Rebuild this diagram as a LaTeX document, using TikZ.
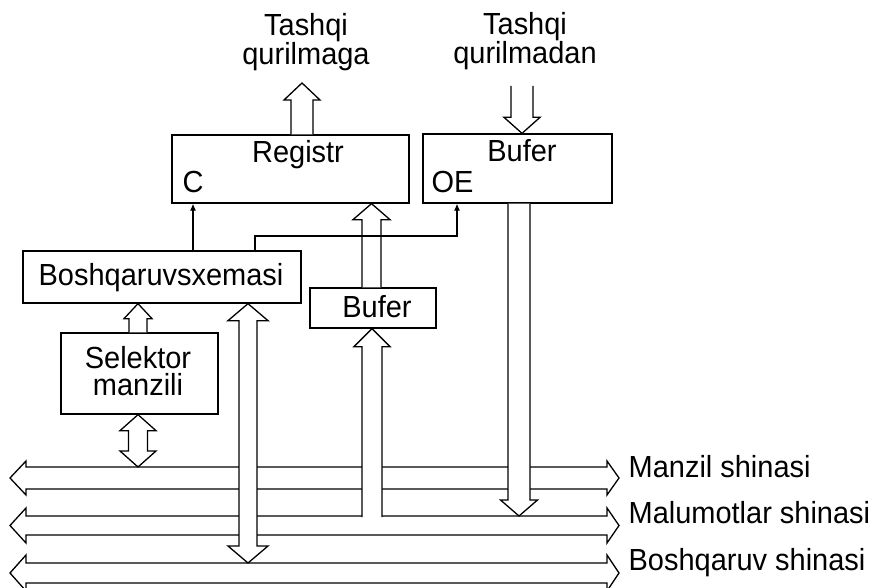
\documentclass[tikz,border=0pt]{standalone}
\usepackage{fontspec}
\setmainfont[FakeStretch=0.95]{Liberation Sans}
\usetikzlibrary{calc,arrows.meta}
% hollow single arrow: #1 tip, #2 tail, #3 half shaft, #4 half head, #5 head length (signed, y down)
\newcommand\hollowv[5]{%
  \filldraw[hol] ($(#1|-#2)+(-#3,0)$) -- ($(#1)+(-#3,#5)$) -- ($(#1)+(-#4,#5)$) -- (#1)
    -- ($(#1)+(#4,#5)$) -- ($(#1)+(#3,#5)$) -- ($(#1|-#2)+(#3,0)$);}
% hollow double arrow: #1 top tip, #2 bottom tip
\newcommand\hollowvv[5]{%
  \filldraw[hol] (#1) -- ($(#1)+(#4,#5)$) -- ($(#1)+(#3,#5)$) -- ($(#1|-#2)+(#3,-#5)$)
    -- ($(#1|-#2)+(#4,-#5)$) -- (#1|-#2) -- ($(#1|-#2)+(-#4,-#5)$) -- ($(#1|-#2)+(-#3,-#5)$)
    -- ($(#1)+(-#3,#5)$) -- ($(#1)+(-#4,#5)$) -- cycle;}
\begin{document}
\begin{tikzpicture}[x=1pt,y=-1pt,line width=1.3pt,
  box/.style={draw,inner sep=0pt},
  hol/.style={draw,fill=white},
  lbl/.style={inner sep=0pt,font=\fontsize{30.5}{25}\selectfont,anchor=base},
  two/.style={inner sep=0pt,align=center,font=\fontsize{30.5}{25}\selectfont},
  sig/.style={-{Latex[length=7pt,width=6pt]},line width=1.2pt}]
\useasboundingbox[fill=white] (0,0) rectangle (880,588);

% boxes
\node[box,minimum width=237pt,minimum height=68pt] (reg) at (290.5,169) {};
\node[box,minimum width=189pt,minimum height=69pt] (buf1) at (517.5,168.5) {};
\node[box,minimum width=278pt,minimum height=52pt] (bsx) at (162,277) {};
\node[box,minimum width=157pt,minimum height=81pt] (sel) at (139.5,373.5) {};
\node[box,minimum width=126pt,minimum height=40pt] (buf2) at (373,308) {};

% texts
\node[lbl] (regt) at (298,163) {Registr};
\node[lbl,anchor=base west] (regc) at (182,193) {C};
\node[lbl] (buf1t) at (522,162) {Bufer};
\node[lbl,anchor=base west] (oe) at (431,193) {OE};
\node[lbl] (bsxt) at (161,285) {Boshqaruvsxemasi};
\node[two,font=\fontsize{30.5}{27}\selectfont,anchor=base] (selt) at (138,395) {Selektor\\manzili};
\node[lbl] (buf2t) at (377,317) {Bufer};
\node[two,anchor=base] (outt) at (306,65) {Tashqi\\qurilmaga};
\node[two,anchor=base] (int) at (525,64) {Tashqi\\qurilmadan};
\node[lbl,anchor=base west] (lman) at (628,477) {Manzil shinasi};
\node[lbl,anchor=base west] (ldat) at (628,523) {Malumotlar shinasi};
\node[lbl,anchor=base west] (lctl) at (628,570) {Boshqaruv shinasi};

% buses
\coordinate (mantop) at (0,467);
\coordinate (datop) at (0,516);
\coordinate (ctltop) at (0,563);
\draw[hol] (10,478) -- (26,461) -- (26,467) -- (607,467) -- (607,461) -- (619,478)
  -- (607,495) -- (607,489) -- (26,489) -- (26,495) -- cycle;
\draw[hol] (10,525.5) -- (26,508) -- (26,516) -- (607,516) -- (607,508) -- (619,525.5)
  -- (607,543) -- (607,535) -- (26,535) -- (26,543) -- cycle;
\draw[hol] (10,573) -- (26,555) -- (26,563) -- (607,563) -- (607,555) -- (619,573)
  -- (607,591) -- (607,583) -- (26,583) -- (26,591) -- cycle;

% hollow arrows
\coordinate (a1) at (302,83);
\hollowv{a1}{reg.north}{11}{18}{17}
\coordinate (a2) at (522,0|-buf1.north);
\coordinate (a2t) at (522,86);
\hollowv{a2}{a2t}{11}{18}{-16}
\coordinate (a3) at (519,0|-datop);
\hollowv{a3}{buf1.south}{11}{18.5}{-16}
\coordinate (a4) at (371.5,0|-reg.south);
\hollowv{a4}{buf2.north}{9.5}{18.5}{16}
\coordinate (a5) at (372,0|-buf2.south);
\coordinate (a5t) at (372,517);
\hollowv{a5}{a5t}{10}{18}{18}
\coordinate (a6) at (138,0|-bsx.south);
\hollowv{a6}{sel.north}{9}{14}{15}
\coordinate (a7a) at (138,0|-sel.south);
\coordinate (a7b) at (138,0|-mantop);
\hollowvv{a7a}{a7b}{9.5}{18}{16}
\coordinate (a8a) at (248,0|-bsx.south);
\coordinate (a8b) at (248,0|-ctltop);
\hollowvv{a8a}{a8b}{9}{20}{17}

% control signals
\coordinate (cs) at (193,0|-bsx.north);
\draw[sig] (cs) -- (cs|-reg.south);
\coordinate (os) at (255,0|-bsx.north);
\coordinate (oj) at (457,236);
\draw[sig] (os) |- (oj) -- (oj|-buf1.south);
\end{tikzpicture}
\end{document}
